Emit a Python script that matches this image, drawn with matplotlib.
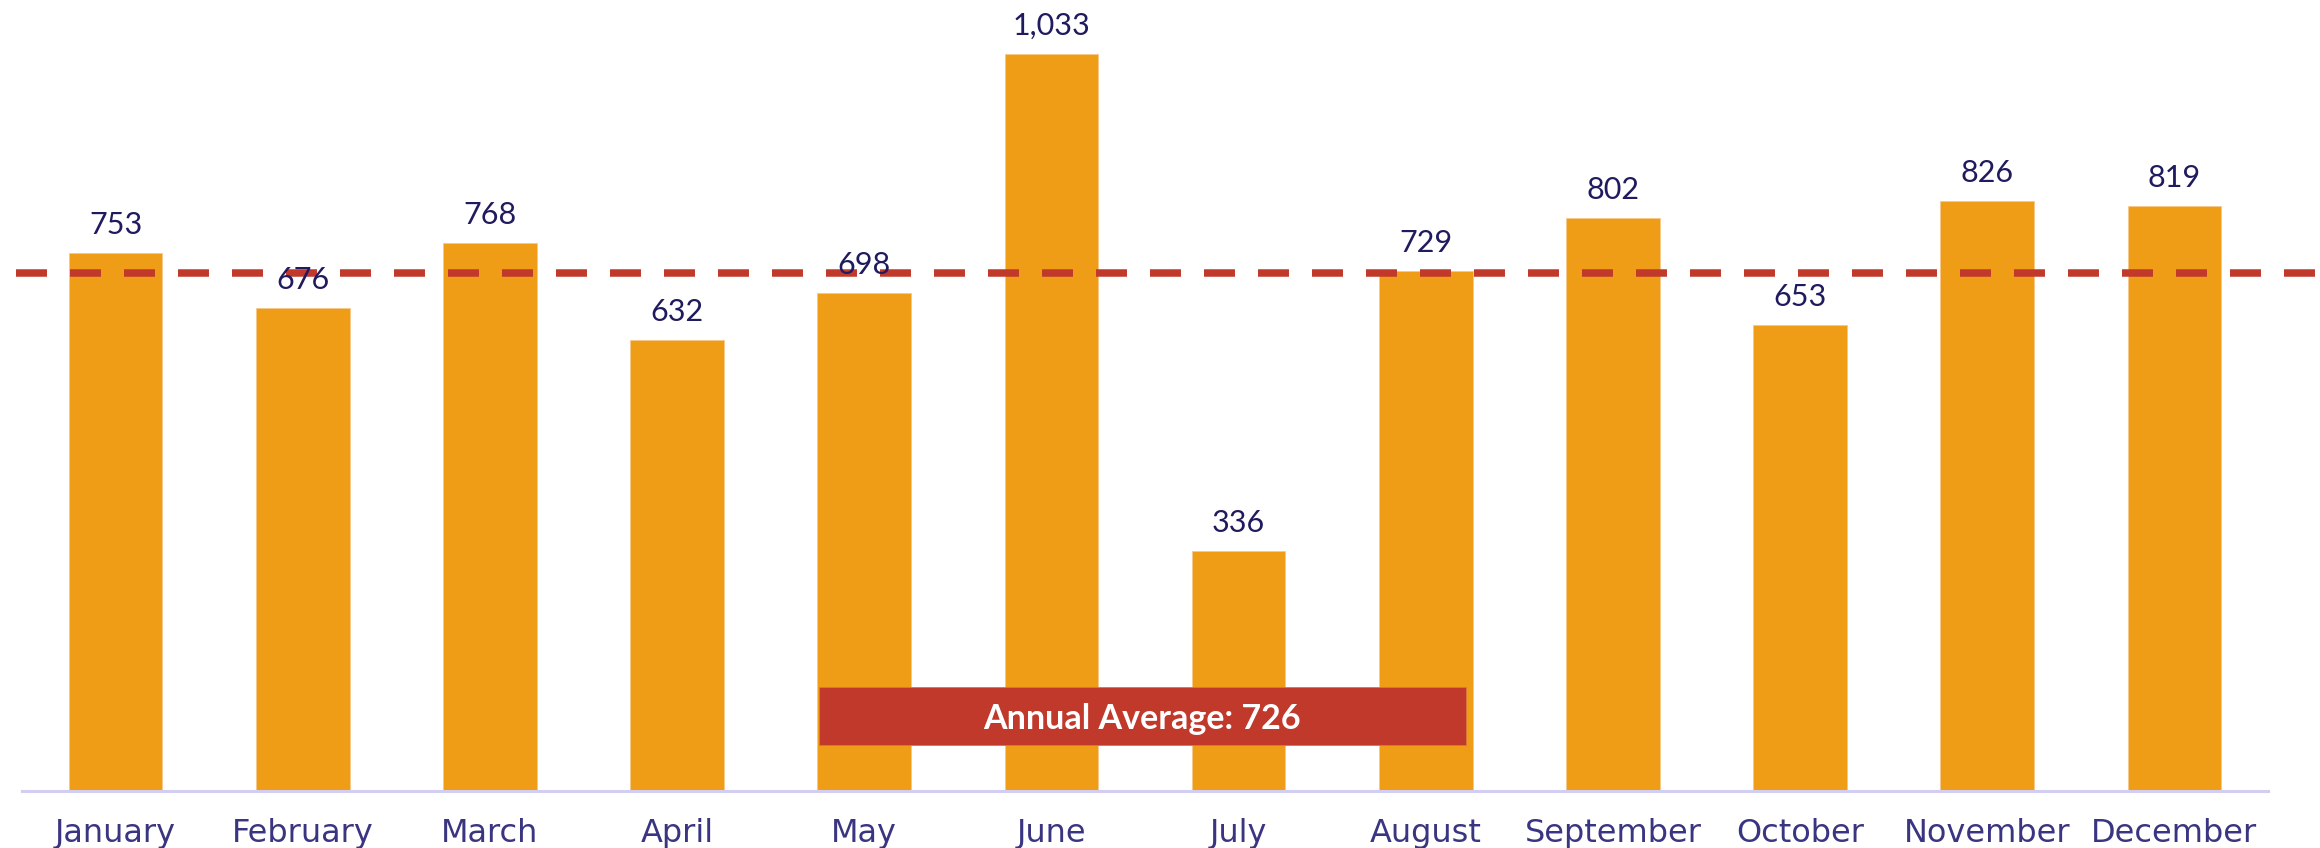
import matplotlib
matplotlib.use("Agg")
import matplotlib.pyplot as plt
from matplotlib.patches import Rectangle

months = ["January", "February", "March", "April", "May", "June", "July",
          "August", "September", "October", "November", "December"]
values = [753, 676, 768, 632, 698, 1033, 336, 729, 802, 653, 826, 819]
average = 726
avg_label = "Annual Average: 726"

BAR = "#EF9C16"
RED = "#C0392B"
VAL = "#1F1B5E"
TICK = "#3A3581"
AXIS = "#D2CEF2"

W, H, DPI = 2320, 848, 100
fig = plt.figure(figsize=(W / DPI, H / DPI), dpi=DPI)
ax = fig.add_axes([22 / W, (H - 791) / H, (2268 - 22) / W, 791 / H])

x = list(range(len(months)))
ax.bar(x, values, width=0.5, color=BAR, edgecolor="#F6C98A", linewidth=0.6, zorder=2)
ax.set_xlim(-0.5, 11.5)
ax.set_ylim(0, 1108)

for xi, v in zip(x, values):
    ax.annotate(f"{v:,}", (xi, v), xytext=(0, 13.7), textcoords="offset points",
                ha="center", va="baseline", fontsize=22, color=VAL, family="Lato", zorder=4)

ax.plot([-0.532, 11.8], [average, average], color=RED, linewidth=5.4,
        dashes=(4.13, 3.07), clip_on=False, zorder=3, dash_capstyle="butt")

box_x0, box_x1, box_y0, box_y1 = 3.757, 7.214, 64.5, 145.8
ax.add_patch(Rectangle((box_x0, box_y0), box_x1 - box_x0, box_y1 - box_y0,
                       facecolor=RED, edgecolor="#D9793A", linewidth=0.6, zorder=5))
ax.text((box_x0 + box_x1) / 2, (box_y0 + box_y1) / 2, avg_label, ha="center", va="center_baseline",
        color="white", fontsize=24.5, fontweight="bold", family="Lato", zorder=6)

ax.set_xticks(x)
ax.set_xticklabels(months, fontsize=23, color=TICK, family="DejaVu Sans")
ax.tick_params(axis="x", length=0, pad=19.5)
ax.set_yticks([])
for s in ["top", "right", "left"]:
    ax.spines[s].set_visible(False)
ax.spines["bottom"].set_color(AXIS)
ax.spines["bottom"].set_linewidth(2.2)
ax.set_facecolor("white")

fig.savefig("out.png", dpi=DPI, facecolor="white")
